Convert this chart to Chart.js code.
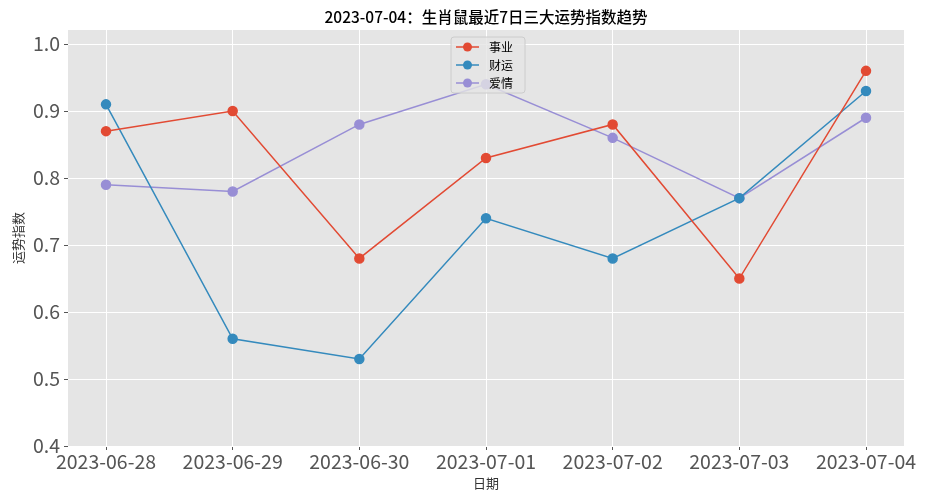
<!DOCTYPE html>
<html><head><meta charset="utf-8">
<script src="https://cdn.jsdelivr.net/npm/chart.js@4"></script>
<style>html,body{margin:0;padding:0;background:#fff}#w{width:929px;height:500px}</style>
</head><body><div id="w"><canvas id="c"></canvas></div>
<script>
const titleText = '2023-07-04：生肖鼠最近7日三大运势指数趋势';
const dates = ['2023-06-28','2023-06-29','2023-06-30','2023-07-01','2023-07-02','2023-07-03','2023-07-04'];
const career = [0.87,0.90,0.68,0.83,0.88,0.65,0.96];
const wealth = [0.91,0.56,0.53,0.74,0.68,0.77,0.93];
const love = [0.79,0.78,0.88,0.94,0.86,0.77,0.89];
const seriesNames = ['事业','财运','爱情'];
const colors = ['#E24A33','#348ABD','#988ED5'];
const yTicks = [0.4,0.5,0.6,0.7,0.8,0.9,1.0];
const FONT = '"Noto Sans CJK SC", "DejaVu Sans", sans-serif';
function ds(v,i){return {label:seriesNames[i],data:v.map((y,x)=>({x,y})),borderColor:colors[i],backgroundColor:colors[i],borderWidth:1.5,pointRadius:4.5,pointHoverRadius:4.5,tension:0};}
const bgPlugin={id:'bg',beforeDraw(ch){const a=ch.chartArea,c=ch.ctx;c.save();c.fillStyle='#E5E5E5';c.fillRect(a.left,a.top,a.right-a.left,a.bottom-a.top);c.restore();},
afterDraw(ch){const c=ch.ctx;c.save();c.fillStyle='#000';c.font='500 15.5px '+FONT;c.textAlign='center';c.textBaseline='middle';c.fillText(titleText,(ch.chartArea.left+ch.chartArea.right)/2,17);
const x0=451,y0=37,w=74,h=56;c.fillStyle='rgba(229,229,229,0.8)';c.strokeStyle='#ccc';c.lineWidth=1;c.beginPath();c.roundRect(x0,y0,w,h,3);c.fill();c.stroke();
c.font='12px '+FONT;c.textAlign='left';
seriesNames.forEach((n,i)=>{const y=y0+10+i*18;c.strokeStyle=colors[i];c.lineWidth=1.5;c.beginPath();c.moveTo(x0+5,y);c.lineTo(x0+28,y);c.stroke();c.fillStyle=colors[i];c.beginPath();c.arc(x0+16.5,y,4.5,0,Math.PI*2);c.fill();c.fillStyle='#000';c.fillText(n,x0+38,y);});
c.restore();}};
new Chart(document.getElementById('c'),{type:'line',data:{datasets:[ds(career,0),ds(wealth,1),ds(love,2)]},
options:{responsive:true,maintainAspectRatio:false,animation:false,layout:{padding:{top:30,right:25,left:10,bottom:9}},
plugins:{legend:{display:false},tooltip:{enabled:false}},
scales:{x:{type:'linear',min:-0.3,max:6.3,afterBuildTicks(s){s.ticks=dates.map((d,i)=>({value:i}));},afterFit(s){s.height=45;},
ticks:{callback:(v)=>dates[v],font:{size:19.5,family:FONT},color:'#555',maxRotation:0,autoSkip:false,padding:0},
grid:{color:'#fff',lineWidth:1,drawTicks:true,tickLength:4,tickColor:'#555'},border:{display:false},
title:{display:true,text:'日期',font:{size:13,family:FONT},color:'#333',padding:{top:0,bottom:0}}},
y:{min:0.4,max:1.021,afterBuildTicks(s){s.ticks=yTicks.map(v=>({value:v}));},afterFit(s){s.width=58;},
ticks:{callback:v=>v.toFixed(1),font:{size:19.5,family:FONT},color:'#555',padding:4},
grid:{color:'#fff',lineWidth:1,tickLength:4,tickColor:'#555'},border:{display:false},
title:{display:true,text:'运势指数',font:{size:13,family:FONT},color:'#333',padding:{top:0,bottom:0}}}}},
plugins:[bgPlugin]});
</script></body></html>
